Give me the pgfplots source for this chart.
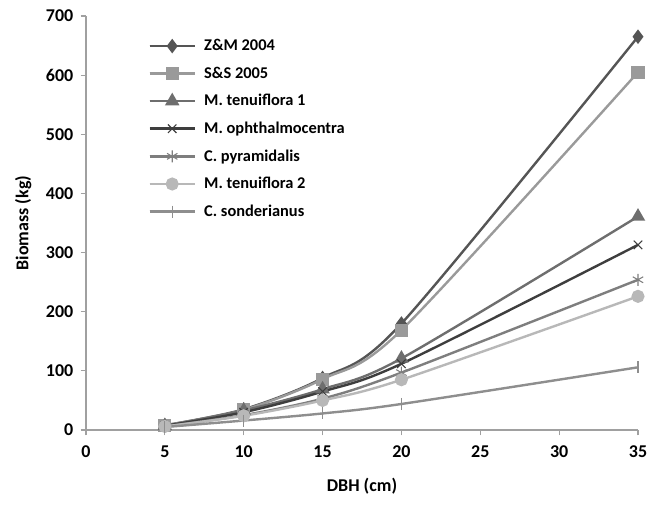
\documentclass[border=0pt]{standalone}
\usepackage{pgfplots}
\pgfplotsset{compat=1.18}
\usepackage{fontspec}
\setmainfont{Carlito}
\usetikzlibrary{plotmarks}
\definecolor{czm}{HTML}{555555}
\definecolor{css}{HTML}{9A9A9A}
\definecolor{ctA}{HTML}{6E6E6E}
\definecolor{coph}{HTML}{3E3E3E}
\definecolor{cpyr}{HTML}{7E7E7E}
\definecolor{ctB}{HTML}{B8B8B8}
\definecolor{cson}{HTML}{8E8E8E}
\definecolor{axgray}{HTML}{A0A0A0}
\begin{document}
\begin{tikzpicture}[x=0.75pt,y=0.75pt]
\path[use as bounding box] (-86,-74) rectangle (574,430);
\begin{axis}[
  at={(0,0)}, anchor=origin,
  scale only axis, width=414pt, height=310.5pt,
  xmin=0, xmax=35, ymin=0, ymax=700,
  axis x line=bottom, axis y line=left,
  axis line style={axgray, line width=0.8pt, -},
  xtick={0,5,...,35}, ytick={0,100,...,700},
  tick style={axgray, line width=0.8pt},
  tick align=outside, major tick length=4pt,
  font=\bfseries\fontsize{13.5}{15}\selectfont,
  /pgf/number format/assume math mode=true,
  xticklabel style={yshift=-4pt},
  yticklabel style={xshift=-2pt},
  xlabel={DBH (cm)}, ylabel={Biomass (kg)},
  xlabel style={yshift=-9pt},
  ylabel style={yshift=4pt},
  legend cell align=left,
  legend style={draw=none, fill=none, at={(0.105,0.957)}, anchor=north west,
    row sep=6.6pt, font=\bfseries\fontsize{12.3}{14}\selectfont,
    nodes={inner xsep=6pt}},
  legend image code/.code={\draw[#1, line width=2pt] (0pt,0pt) -- (34pt,0pt); \path[#1, mark repeat=2, mark phase=2] plot coordinates {(0pt,0pt) (17pt,0pt) (34pt,0pt)};},
  every axis plot/.append style={line width=1.8pt, smooth, tension=0.5},
]
\addplot[czm, mark=diamond*, mark size=4pt, mark options={solid, fill=czm}] coordinates {(5,8) (10,35) (15,88) (20,180) (35,665)};
\addlegendentry{Z\&M 2004}
\addplot[css, mark=square*, mark size=4pt, mark options={fill=css}] coordinates {(5,8) (10,34) (15,86) (20,169) (35,605)};
\addlegendentry{S\&S 2005}
\addplot[ctA, mark=triangle*, mark size=4.5pt, mark options={fill=ctA}] coordinates {(5,7) (10,33) (15,69) (20,121) (35,361)};
\addlegendentry{M. tenuiflora 1}
\addplot[coph, mark=x, mark size=4.5pt, mark options={line width=0.8pt}] coordinates {(5,7) (10,30) (15,65) (20,112) (35,313)};
\addlegendentry{M. ophthalmocentra}
\addplot[cpyr, mark=asterisk, mark size=4.5pt, mark options={line width=0.8pt}] coordinates {(5,6) (10,25) (15,53) (20,97) (35,254)};
\addlegendentry{C. pyramidalis}
\addplot[ctB, mark=*, mark size=4pt, mark options={fill=ctB}] coordinates {(5,6) (10,24) (15,50) (20,85) (35,226)};
\addlegendentry{M. tenuiflora 2}
\addplot[cson, mark=|, mark size=4.5pt, mark options={line width=0.8pt}] coordinates {(5,5) (10,16) (15,28) (20,44) (35,106)};
\addlegendentry{C. sonderianus}
\end{axis}
\end{tikzpicture}
\end{document}
